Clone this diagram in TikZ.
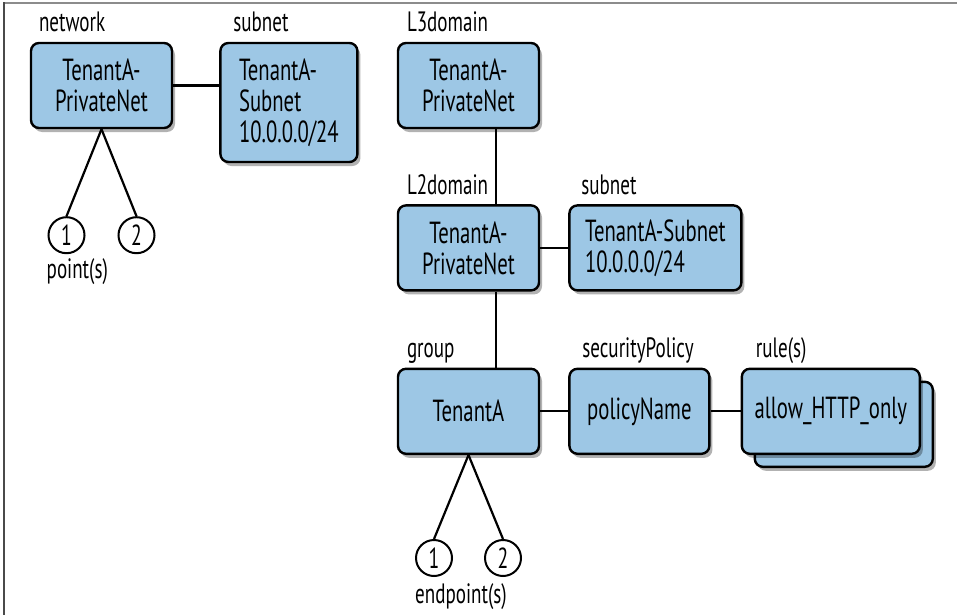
\documentclass[tikz,border=0pt]{standalone}
\usepackage{fontspec}
\setmainfont{PT Sans}[FakeStretch=0.68]
\usetikzlibrary{calc,positioning,shadows}
\definecolor{Sky}{HTML}{9DC7E5}
\definecolor{FrameGray}{HTML}{8C8C8C}
\definecolor{FrameDark}{HTML}{4A4A4A}
\tikzset{
  entity/.style={
    rounded corners=8pt, draw=black, line width=2.4pt, fill=Sky,
    minimum width=141pt, minimum height=85pt, align=center,
    font=\fontsize{30.5}{31}\selectfont,
    drop shadow={shadow xshift=3pt, shadow yshift=-4pt, fill=black, opacity=.3}
  },
  tag/.style={anchor=base west, inner sep=0pt, font=\fontsize{28}{30}\selectfont},
  ref/.style={
    circle, draw=black, line width=2pt, fill=white, minimum size=36pt,
    inner sep=0pt, font=\fontsize{29}{30}\selectfont
  },
  link/.style={line width=2.2pt, draw=black}
}
\begin{document}
\begin{tikzpicture}[x=1pt,y=-1pt,node distance=28pt]
        \useasboundingbox (0,0) rectangle (957,615);
        \draw[FrameGray,line width=2pt] (4,3.5)--(957,3.5);
        \draw[FrameDark,line width=2pt] (4,2.5)--(4,615);
        \node[entity] (net) at (101.5,85.5) {TenantA-\\PrivateNet};
        \node[entity,right=46pt of net.north east,anchor=north west,
          minimum width=137pt,minimum height=119pt,align=left] (sub) {TenantA-\\Subnet\\10.0.0.0/24};
        \node[ref,below=87pt of net.south,xshift=-35pt] (p1) {1};
        \node[ref,below=87pt of net.south,xshift=35pt] (p2) {2};
        \node[entity] (l3) at (468.5,85.5) {TenantA-\\PrivateNet};
        \node[entity,below=75pt of l3] (l2) {TenantA-\\PrivateNet};
        \node[entity,right=of l2,minimum width=172pt,align=left] (sub2) {TenantA-Subnet\\10.0.0.0/24};
        \node[entity,below=76pt of l2] (grp) {TenantA};
        \node[entity,right=of grp,minimum width=140pt] (pol) {policyName};
        \node[entity,right=43pt of pol,yshift=-13pt,minimum width=178pt] (ruleb) {};
        \node[entity,right=30pt of pol,minimum width=178pt] (rule) {allow\_HTTP\_only};
        \node[ref,below=84pt of grp.south,xshift=-34.5pt] (e1) {1};
        \node[ref,below=84pt of grp.south,xshift=34.5pt] (e2) {2};
        \node[tag] at ($(net.north west)+(9,-10)$) {network};
        \node[tag] at ($(sub.north west)+(14,-10)$) {subnet};
        \node[tag] at ($(l3.north west)+(10,-10)$) {L3domain};
        \node[tag] at ($(l2.north west)+(10,-10)$) {L2domain};
        \node[tag] at ($(sub2.north west)+(13,-10)$) {subnet};
        \node[tag] at ($(grp.north west)+(10,-10)$) {group};
        \node[tag] at ($(pol.north west)+(14,-10)$) {securityPolicy};
        \node[tag] at ($(rule.north west)+(15,-10)$) {rule(s)};
        \node[tag] at ($(p1.west |- p1.south)+(-1,24)$) {point(s)};
        \node[tag] at ($(e1.west |- e1.south)+(0,26)$) {endpoint(s)};
        \draw[link] (net.east)--(net.east -| sub.west);
        \draw[link] (net.south)--(p1.north);
        \draw[link] (net.south)--(p2.north);
        \draw[link] ([xshift=27.5pt]l3.south)--([xshift=27.5pt]l2.north);
        \draw[link] (l2)--(sub2);
        \draw[link] ([xshift=27.5pt]l2.south)--([xshift=27.5pt]grp.north);
        \draw[link] (grp)--(pol);
        \draw[link] (pol)--(rule);
        \draw[link] (grp.south)--(e1.north);
        \draw[link] (grp.south)--(e2.north);
      \end{tikzpicture}
\end{document}
